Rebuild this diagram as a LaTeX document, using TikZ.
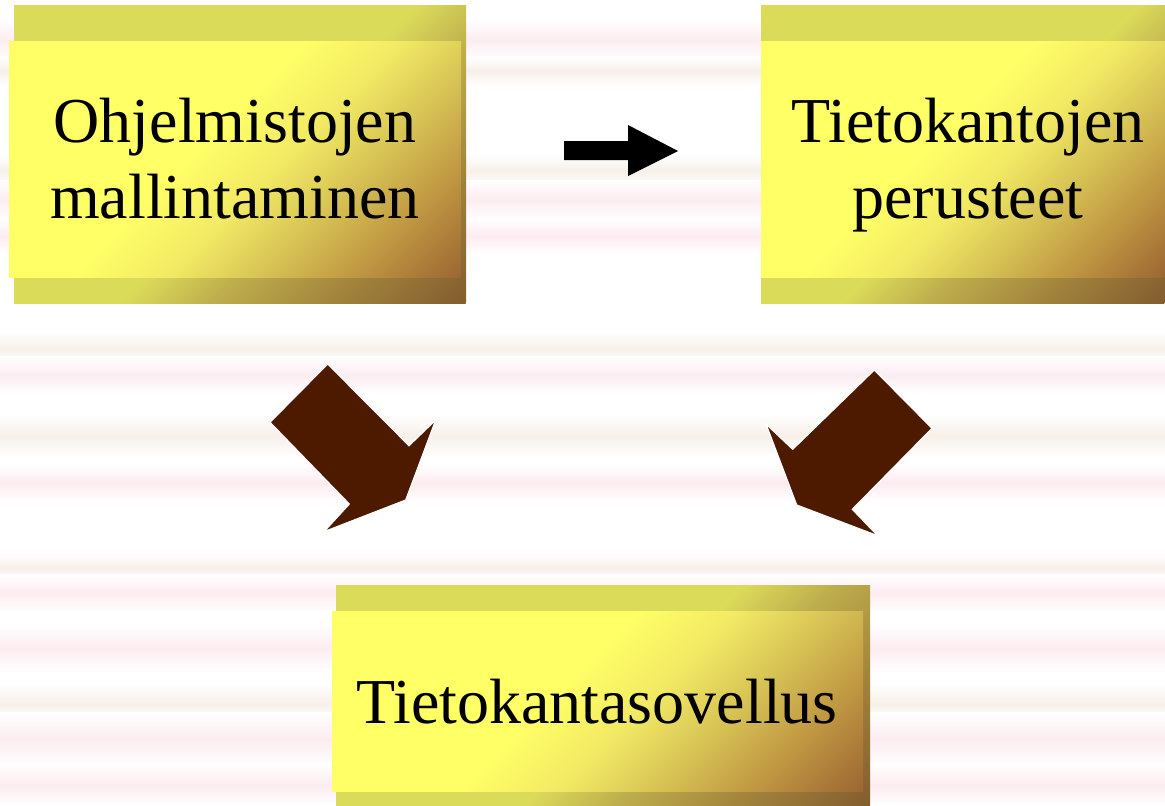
\documentclass[tikz,border=0pt]{standalone}
\usepackage{fontspec}
\setmainfont{Liberation Serif}
\definecolor{fy}{RGB}{255,255,102}
\definecolor{fmA}{RGB}{242,234,100}
\definecolor{fmB}{RGB}{214,194,84}
\definecolor{fmC}{RGB}{192,152,66}
\definecolor{fb}{RGB}{156,102,50}
\definecolor{bkA}{RGB}{219,219,90}
\definecolor{bkB}{RGB}{190,174,76}
\definecolor{bkC}{RGB}{162,132,60}
\definecolor{bkD}{RGB}{130,92,46}
\definecolor{arrowbrown}{RGB}{77,26,0}
\definecolor{stpink}{RGB}{252,236,240}
\definecolor{stbeige}{RGB}{247,240,233}
\pgfdeclarehorizontalshading{frontshade}{100bp}{color(0bp)=(fy); color(46.5bp)=(fy); color(53.5bp)=(fmA); color(60.5bp)=(fmB); color(67bp)=(fmC); color(75bp)=(fb); color(100bp)=(fb)}
\pgfdeclarehorizontalshading{backshade}{100bp}{color(0bp)=(bkA); color(52bp)=(bkA); color(58bp)=(bkB); color(66bp)=(bkC); color(75bp)=(bkD); color(100bp)=(bkD)}
\tikzset{
  boxgeom/.style={inner sep=0pt, outer sep=0pt, anchor=north west},
  lbl/.style={font=\fontsize{64}{76}\selectfont, anchor=base, inner sep=0pt, text=black},
  blockarrow/.style={fill=arrowbrown, draw=white, line width=1.2pt, line join=miter},
  stripepink/.style={top color=white, bottom color=white, middle color=stpink},
  stripebeige/.style={top color=white, bottom color=white, middle color=stbeige},
}
% #1 name, #2 x, #3 y (top-left, px), #4 width, #5 height, #6 shading
\newcommand\gradbox[6]{%
  \node[boxgeom, minimum width=#4pt, minimum height=#5pt] (#1) at (#2,#3) {};
  \pgfmathsetmacro\gL{(#4+#5)/2.828427}%
  \begin{scope}
    \clip (#1.north west) rectangle (#1.south east);
    \begin{scope}[transform canvas={shift={(#1.center)}, rotate=-45}]
      \shade[shading=#6] (-\gL,-\gL-100) rectangle (\gL,\gL+100);
    \end{scope}
  \end{scope}
}
\begin{document}
\begin{tikzpicture}[x=1pt,y=-1pt]
\useasboundingbox (0,0) rectangle (1165,806);
\fill[white] (0,0) rectangle (1165,806);
% background stripes
\shade[stripepink] (0,20) rectangle (1165,60);
\shade[stripebeige] (0,56) rectangle (1165,86);
\shade[stripebeige] (0,154) rectangle (1165,188);
\shade[stripepink] (0,180) rectangle (1165,220);
\shade[stripepink] (0,218) rectangle (1165,254);
\shade[stripebeige] (0,332) rectangle (1165,364);
\shade[stripepink] (0,356) rectangle (1165,394);
\shade[stripebeige] (0,414) rectangle (1165,458);
\shade[stripepink] (0,464) rectangle (1165,502);
\shade[stripebeige] (0,552) rectangle (1165,584);
\shade[stripepink] (0,574) rectangle (1165,612);
\shade[stripepink] (0,624) rectangle (1165,672);
\shade[stripebeige] (0,684) rectangle (1165,722);
\shade[stripepink] (0,712) rectangle (1165,766);
\shade[stripepink] (0,764) rectangle (1165,806);

% box 1
\gradbox{b1}{14}{5}{452}{298}{backshade}
\gradbox{f1}{9}{41}{452}{236}{frontshade}
\node[lbl] (t1a) at (235,142) {Ohjelmistojen};
\node[lbl] (t1b) at (235,218) {mallintaminen};

% box 2
\gradbox{b2}{761}{5}{404}{298}{backshade}
\gradbox{f2}{761}{41}{404}{236}{frontshade}
\node[lbl] (t2a) at (968,142) {Tietokantojen};
\node[lbl] (t2b) at (968,218) {perusteet};

% box 3
\gradbox{b3}{336}{585}{534}{221}{backshade}
\gradbox{f3}{332}{611}{531}{180}{frontshade}
\node[lbl] (t3) at (597,723) {Tietokantasovellus};

% black arrow
\fill[black] (564,141) -- (628,141) -- (628,125) -- (678,151) -- (628,176) -- (628,160) -- (564,160) -- cycle;

% brown arrow left
\filldraw[blockarrow] (327.7,364) -- (409,445.7) -- (435.7,420) -- (405.7,500) -- (324,531.7) -- (349.3,504) -- (270,422.3) -- cycle;
% brown arrow right
\filldraw[blockarrow] (874.3,370) -- (932,428.3) -- (852.3,509.3) -- (877.7,535.7) -- (796.7,505) -- (766,424) -- (792.7,449.3) -- cycle;
\end{tikzpicture}
\end{document}
